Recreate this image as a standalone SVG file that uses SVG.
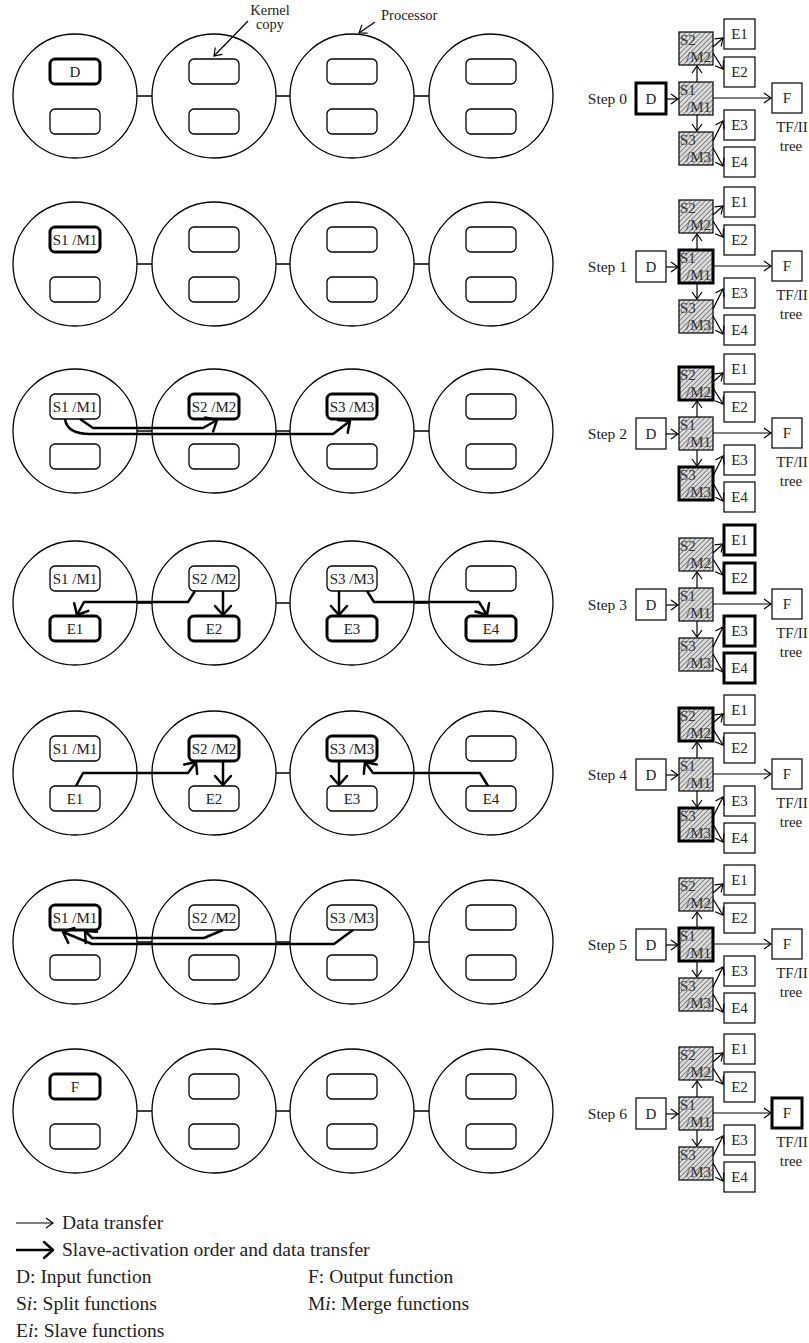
<svg xmlns="http://www.w3.org/2000/svg" xmlns:xlink="http://www.w3.org/1999/xlink" width="809" height="1343" viewBox="0 0 809 1343">
<style>
.bg{fill:#fff}
.pc{fill:none;stroke:#000;stroke-width:1.3}
.kr{fill:#fff;stroke:#000;stroke-width:1.3}
.kt{fill:#fff;stroke:#000;stroke-width:3}
.lk{stroke:#000;stroke-width:1.3;fill:none}
.lb{font-family:"Liberation Serif",serif;font-size:15px;fill:#222;text-anchor:middle}
.an{font-family:"Liberation Serif",serif;font-size:14.5px;fill:#222}
.ar{fill:none;stroke:#000;stroke-width:2.5;stroke-linejoin:round;marker-end:url(#mk)}
.tl{fill:none;stroke:#000;stroke-width:1.2;marker-end:url(#ms)}
.tb{fill:#fff;stroke:#000;stroke-width:1.2}
.tbt{fill:#fff;stroke:#000;stroke-width:3}
.th{fill:url(#hatch);stroke:#000;stroke-width:1.2}
.tht{fill:url(#hatch);stroke:#000;stroke-width:3}
.tt{font-family:"Liberation Serif",serif;font-size:15px;fill:#222;text-anchor:middle}
.ts{font-family:"Liberation Serif",serif;font-size:15px;fill:#333}
.st{font-family:"Liberation Serif",serif;font-size:15.5px;fill:#222;text-anchor:end}
.lg{font-family:"Liberation Serif",serif;font-size:19.5px;fill:#222}
</style>
<defs>
<marker id="mk" viewBox="-12 -12 14 24" refX="0" refY="0" markerWidth="14" markerHeight="24" markerUnits="userSpaceOnUse" orient="auto">
<path d="M-9,-8 L0,0 L-9,8" fill="none" stroke="#000" stroke-width="2.5" stroke-linecap="round" stroke-linejoin="round"/>
</marker>
<marker id="ms" viewBox="-9 -7 10 14" refX="0" refY="0" markerWidth="10" markerHeight="14" markerUnits="userSpaceOnUse" orient="auto">
<path d="M-7,-5 L0,0 L-7,5" fill="none" stroke="#000" stroke-width="1.2"/>
</marker>
<pattern id="hatch" width="3.5" height="3.5" patternUnits="userSpaceOnUse" patternTransform="rotate(45)">
<rect width="3.5" height="3.5" fill="#dcdcdc"/>
<line x1="0" y1="0" x2="0" y2="3.5" stroke="#333" stroke-width="1"/>
</pattern>
<g id="proc">
<circle class="pc" cx="0" cy="0" r="62"/>
<rect class="kr" x="-25" y="-37" width="50" height="25" rx="5"/>
<rect class="kr" x="-25" y="13" width="50" height="25" rx="5"/>
</g>
</defs>
<rect class="bg" width="809" height="1343"/>

<!-- annotations -->
<g id="annotations">
<text class="an" x="270" y="15" text-anchor="middle">Kernel</text>
<text class="an" x="270" y="29" text-anchor="middle">copy</text>
<text class="an" x="381" y="19.5">Processor</text>
</g>

<!-- Processor rows -->
<g id="row1">
<g id="r1p1"><use href="#proc" x="75" y="96"/><rect class="kt" x="50" y="59" width="50" height="25" rx="5"/><text class="lb" x="75" y="76.5">D</text></g>
<g id="r1p2"><use href="#proc" x="214" y="96"/></g>
<g id="r1p3"><use href="#proc" x="352" y="96"/></g>
<g id="r1p4"><use href="#proc" x="491" y="96"/></g>
</g>
<g id="row2" transform="translate(0,168)">
<g id="r2p1"><use href="#proc" x="75" y="96"/><rect class="kt" x="50" y="59" width="50" height="25" rx="5"/><text class="lb" x="75" y="76.5">S1 /M1</text></g>
<g id="r2p2"><use href="#proc" x="214" y="96"/></g>
<g id="r2p3"><use href="#proc" x="352" y="96"/></g>
<g id="r2p4"><use href="#proc" x="491" y="96"/></g>
</g>
<g id="row3" transform="translate(0,335)">
<g id="r3p1"><use href="#proc" x="75" y="96"/><text class="lb" x="75" y="76.5">S1 /M1</text></g>
<g id="r3p2"><use href="#proc" x="214" y="96"/><rect class="kt" x="189" y="59" width="50" height="25" rx="5"/><text class="lb" x="214" y="76.5">S2 /M2</text></g>
<g id="r3p3"><use href="#proc" x="352" y="96"/><rect class="kt" x="327" y="59" width="50" height="25" rx="5"/><text class="lb" x="352" y="76.5">S3 /M3</text></g>
<g id="r3p4"><use href="#proc" x="491" y="96"/></g>
</g>
<g id="row4" transform="translate(0,507)">
<g id="r4p1"><use href="#proc" x="75" y="96"/><text class="lb" x="75" y="76.5">S1 /M1</text><rect class="kt" x="50" y="109" width="50" height="25" rx="5"/><text class="lb" x="75" y="126.5">E1</text></g>
<g id="r4p2"><use href="#proc" x="214" y="96"/><text class="lb" x="214" y="76.5">S2 /M2</text><rect class="kt" x="189" y="109" width="50" height="25" rx="5"/><text class="lb" x="214" y="126.5">E2</text></g>
<g id="r4p3"><use href="#proc" x="352" y="96"/><text class="lb" x="352" y="76.5">S3 /M3</text><rect class="kt" x="327" y="109" width="50" height="25" rx="5"/><text class="lb" x="352" y="126.5">E3</text></g>
<g id="r4p4"><use href="#proc" x="491" y="96"/><rect class="kt" x="466" y="109" width="50" height="25" rx="5"/><text class="lb" x="491" y="126.5">E4</text></g>
</g>
<g id="row5" transform="translate(0,677)">
<g id="r5p1"><use href="#proc" x="75" y="96"/><text class="lb" x="75" y="76.5">S1 /M1</text><text class="lb" x="75" y="126.5">E1</text></g>
<g id="r5p2"><use href="#proc" x="214" y="96"/><rect class="kt" x="189" y="59" width="50" height="25" rx="5"/><text class="lb" x="214" y="76.5">S2 /M2</text><text class="lb" x="214" y="126.5">E2</text></g>
<g id="r5p3"><use href="#proc" x="352" y="96"/><rect class="kt" x="327" y="59" width="50" height="25" rx="5"/><text class="lb" x="352" y="76.5">S3 /M3</text><text class="lb" x="352" y="126.5">E3</text></g>
<g id="r5p4"><use href="#proc" x="491" y="96"/><text class="lb" x="491" y="126.5">E4</text></g>
</g>
<g id="row6" transform="translate(0,846)">
<g id="r6p1"><use href="#proc" x="75" y="96"/><rect class="kt" x="50" y="59" width="50" height="25" rx="5"/><text class="lb" x="75" y="76.5">S1 /M1</text></g>
<g id="r6p2"><use href="#proc" x="214" y="96"/><text class="lb" x="214" y="76.5">S2 /M2</text></g>
<g id="r6p3"><use href="#proc" x="352" y="96"/><text class="lb" x="352" y="76.5">S3 /M3</text></g>
<g id="r6p4"><use href="#proc" x="491" y="96"/></g>
</g>
<g id="row7" transform="translate(0,1015)">
<g id="r7p1"><use href="#proc" x="75" y="96"/><rect class="kt" x="50" y="59" width="50" height="25" rx="5"/><text class="lb" x="75" y="76.5">F</text></g>
<g id="r7p2"><use href="#proc" x="214" y="96"/></g>
<g id="r7p3"><use href="#proc" x="352" y="96"/></g>
<g id="r7p4"><use href="#proc" x="491" y="96"/></g>
</g>

<!-- Trees -->
<g id="tree0">
<text class="st" x="627" y="104">Step 0</text>
<g id="t0D"><rect class="tbt" x="636" y="83" width="30" height="31"/><text class="tt" x="651" y="104">D</text></g>
<g id="t0S1"><rect class="th" x="679" y="82" width="34" height="33"/><text class="ts" x="680" y="95">S1</text><text class="ts" x="686" y="112">/M1</text></g>
<g id="t0S2"><rect class="th" x="679" y="32" width="34" height="33"/><text class="ts" x="680" y="45">S2</text><text class="ts" x="686" y="62">/M2</text></g>
<g id="t0S3"><rect class="th" x="679" y="132" width="34" height="33"/><text class="ts" x="680" y="145">S3</text><text class="ts" x="686" y="162">/M3</text></g>
<g id="t0E1"><rect class="tb" x="724" y="19" width="31" height="30"/><text class="tt" x="739.5" y="39">E1</text></g>
<g id="t0E2"><rect class="tb" x="724" y="57" width="31" height="30"/><text class="tt" x="739.5" y="77">E2</text></g>
<g id="t0E3"><rect class="tb" x="724" y="110" width="31" height="30"/><text class="tt" x="739.5" y="130">E3</text></g>
<g id="t0E4"><rect class="tb" x="724" y="147" width="31" height="30"/><text class="tt" x="739.5" y="167">E4</text></g>
<g id="t0F"><rect class="tb" x="772" y="83" width="30" height="30"/><text class="tt" x="787" y="103">F</text></g>
<text class="tt" x="792" y="132">TF/II</text><text class="tt" x="791" y="151">tree</text>
</g>
<g id="tree1" transform="translate(0,168)">
<text class="st" x="627" y="104">Step 1</text>
<g id="t1D"><rect class="tb" x="636" y="83" width="30" height="31"/><text class="tt" x="651" y="104">D</text></g>
<g id="t1S1"><rect class="tht" x="679" y="82" width="34" height="33"/><text class="ts" x="680" y="95">S1</text><text class="ts" x="686" y="112">/M1</text></g>
<g id="t1S2"><rect class="th" x="679" y="32" width="34" height="33"/><text class="ts" x="680" y="45">S2</text><text class="ts" x="686" y="62">/M2</text></g>
<g id="t1S3"><rect class="th" x="679" y="132" width="34" height="33"/><text class="ts" x="680" y="145">S3</text><text class="ts" x="686" y="162">/M3</text></g>
<g id="t1E1"><rect class="tb" x="724" y="19" width="31" height="30"/><text class="tt" x="739.5" y="39">E1</text></g>
<g id="t1E2"><rect class="tb" x="724" y="57" width="31" height="30"/><text class="tt" x="739.5" y="77">E2</text></g>
<g id="t1E3"><rect class="tb" x="724" y="110" width="31" height="30"/><text class="tt" x="739.5" y="130">E3</text></g>
<g id="t1E4"><rect class="tb" x="724" y="147" width="31" height="30"/><text class="tt" x="739.5" y="167">E4</text></g>
<g id="t1F"><rect class="tb" x="772" y="83" width="30" height="30"/><text class="tt" x="787" y="103">F</text></g>
<text class="tt" x="792" y="132">TF/II</text><text class="tt" x="791" y="151">tree</text>
</g>
<g id="tree2" transform="translate(0,335)">
<text class="st" x="627" y="104">Step 2</text>
<g id="t2D"><rect class="tb" x="636" y="83" width="30" height="31"/><text class="tt" x="651" y="104">D</text></g>
<g id="t2S1"><rect class="th" x="679" y="82" width="34" height="33"/><text class="ts" x="680" y="95">S1</text><text class="ts" x="686" y="112">/M1</text></g>
<g id="t2S2"><rect class="tht" x="679" y="32" width="34" height="33"/><text class="ts" x="680" y="45">S2</text><text class="ts" x="686" y="62">/M2</text></g>
<g id="t2S3"><rect class="tht" x="679" y="132" width="34" height="33"/><text class="ts" x="680" y="145">S3</text><text class="ts" x="686" y="162">/M3</text></g>
<g id="t2E1"><rect class="tb" x="724" y="19" width="31" height="30"/><text class="tt" x="739.5" y="39">E1</text></g>
<g id="t2E2"><rect class="tb" x="724" y="57" width="31" height="30"/><text class="tt" x="739.5" y="77">E2</text></g>
<g id="t2E3"><rect class="tb" x="724" y="110" width="31" height="30"/><text class="tt" x="739.5" y="130">E3</text></g>
<g id="t2E4"><rect class="tb" x="724" y="147" width="31" height="30"/><text class="tt" x="739.5" y="167">E4</text></g>
<g id="t2F"><rect class="tb" x="772" y="83" width="30" height="30"/><text class="tt" x="787" y="103">F</text></g>
<text class="tt" x="792" y="132">TF/II</text><text class="tt" x="791" y="151">tree</text>
</g>
<g id="tree3" transform="translate(0,506)">
<text class="st" x="627" y="104">Step 3</text>
<g id="t3D"><rect class="tb" x="636" y="83" width="30" height="31"/><text class="tt" x="651" y="104">D</text></g>
<g id="t3S1"><rect class="th" x="679" y="82" width="34" height="33"/><text class="ts" x="680" y="95">S1</text><text class="ts" x="686" y="112">/M1</text></g>
<g id="t3S2"><rect class="th" x="679" y="32" width="34" height="33"/><text class="ts" x="680" y="45">S2</text><text class="ts" x="686" y="62">/M2</text></g>
<g id="t3S3"><rect class="th" x="679" y="132" width="34" height="33"/><text class="ts" x="680" y="145">S3</text><text class="ts" x="686" y="162">/M3</text></g>
<g id="t3E1"><rect class="tbt" x="724" y="19" width="31" height="30"/><text class="tt" x="739.5" y="39">E1</text></g>
<g id="t3E2"><rect class="tbt" x="724" y="57" width="31" height="30"/><text class="tt" x="739.5" y="77">E2</text></g>
<g id="t3E3"><rect class="tbt" x="724" y="110" width="31" height="30"/><text class="tt" x="739.5" y="130">E3</text></g>
<g id="t3E4"><rect class="tbt" x="724" y="147" width="31" height="30"/><text class="tt" x="739.5" y="167">E4</text></g>
<g id="t3F"><rect class="tb" x="772" y="83" width="30" height="30"/><text class="tt" x="787" y="103">F</text></g>
<text class="tt" x="792" y="132">TF/II</text><text class="tt" x="791" y="151">tree</text>
</g>
<g id="tree4" transform="translate(0,676)">
<text class="st" x="627" y="104">Step 4</text>
<g id="t4D"><rect class="tb" x="636" y="83" width="30" height="31"/><text class="tt" x="651" y="104">D</text></g>
<g id="t4S1"><rect class="th" x="679" y="82" width="34" height="33"/><text class="ts" x="680" y="95">S1</text><text class="ts" x="686" y="112">/M1</text></g>
<g id="t4S2"><rect class="tht" x="679" y="32" width="34" height="33"/><text class="ts" x="680" y="45">S2</text><text class="ts" x="686" y="62">/M2</text></g>
<g id="t4S3"><rect class="tht" x="679" y="132" width="34" height="33"/><text class="ts" x="680" y="145">S3</text><text class="ts" x="686" y="162">/M3</text></g>
<g id="t4E1"><rect class="tb" x="724" y="19" width="31" height="30"/><text class="tt" x="739.5" y="39">E1</text></g>
<g id="t4E2"><rect class="tb" x="724" y="57" width="31" height="30"/><text class="tt" x="739.5" y="77">E2</text></g>
<g id="t4E3"><rect class="tb" x="724" y="110" width="31" height="30"/><text class="tt" x="739.5" y="130">E3</text></g>
<g id="t4E4"><rect class="tb" x="724" y="147" width="31" height="30"/><text class="tt" x="739.5" y="167">E4</text></g>
<g id="t4F"><rect class="tb" x="772" y="83" width="30" height="30"/><text class="tt" x="787" y="103">F</text></g>
<text class="tt" x="792" y="132">TF/II</text><text class="tt" x="791" y="151">tree</text>
</g>
<g id="tree5" transform="translate(0,846)">
<text class="st" x="627" y="104">Step 5</text>
<g id="t5D"><rect class="tb" x="636" y="83" width="30" height="31"/><text class="tt" x="651" y="104">D</text></g>
<g id="t5S1"><rect class="tht" x="679" y="82" width="34" height="33"/><text class="ts" x="680" y="95">S1</text><text class="ts" x="686" y="112">/M1</text></g>
<g id="t5S2"><rect class="th" x="679" y="32" width="34" height="33"/><text class="ts" x="680" y="45">S2</text><text class="ts" x="686" y="62">/M2</text></g>
<g id="t5S3"><rect class="th" x="679" y="132" width="34" height="33"/><text class="ts" x="680" y="145">S3</text><text class="ts" x="686" y="162">/M3</text></g>
<g id="t5E1"><rect class="tb" x="724" y="19" width="31" height="30"/><text class="tt" x="739.5" y="39">E1</text></g>
<g id="t5E2"><rect class="tb" x="724" y="57" width="31" height="30"/><text class="tt" x="739.5" y="77">E2</text></g>
<g id="t5E3"><rect class="tb" x="724" y="110" width="31" height="30"/><text class="tt" x="739.5" y="130">E3</text></g>
<g id="t5E4"><rect class="tb" x="724" y="147" width="31" height="30"/><text class="tt" x="739.5" y="167">E4</text></g>
<g id="t5F"><rect class="tb" x="772" y="83" width="30" height="30"/><text class="tt" x="787" y="103">F</text></g>
<text class="tt" x="792" y="132">TF/II</text><text class="tt" x="791" y="151">tree</text>
</g>
<g id="tree6" transform="translate(0,1015)">
<text class="st" x="627" y="104">Step 6</text>
<g id="t6D"><rect class="tb" x="636" y="83" width="30" height="31"/><text class="tt" x="651" y="104">D</text></g>
<g id="t6S1"><rect class="th" x="679" y="82" width="34" height="33"/><text class="ts" x="680" y="95">S1</text><text class="ts" x="686" y="112">/M1</text></g>
<g id="t6S2"><rect class="th" x="679" y="32" width="34" height="33"/><text class="ts" x="680" y="45">S2</text><text class="ts" x="686" y="62">/M2</text></g>
<g id="t6S3"><rect class="th" x="679" y="132" width="34" height="33"/><text class="ts" x="680" y="145">S3</text><text class="ts" x="686" y="162">/M3</text></g>
<g id="t6E1"><rect class="tb" x="724" y="19" width="31" height="30"/><text class="tt" x="739.5" y="39">E1</text></g>
<g id="t6E2"><rect class="tb" x="724" y="57" width="31" height="30"/><text class="tt" x="739.5" y="77">E2</text></g>
<g id="t6E3"><rect class="tb" x="724" y="110" width="31" height="30"/><text class="tt" x="739.5" y="130">E3</text></g>
<g id="t6E4"><rect class="tb" x="724" y="147" width="31" height="30"/><text class="tt" x="739.5" y="167">E4</text></g>
<g id="t6F"><rect class="tbt" x="772" y="83" width="30" height="30"/><text class="tt" x="787" y="103">F</text></g>
<text class="tt" x="792" y="132">TF/II</text><text class="tt" x="791" y="151">tree</text>
</g>

<!-- Connectors -->
<g id="connectors">
<path class="tl" d="M248,21 L214,56"/>
<path class="tl" d="M375,22 L359,33"/>
<g id="links">
<g id="links1"><path class="lk" d="M137,96H152M276,96H290M414,96H429"/></g>
<g transform="translate(0,168)"><path class="lk" d="M137,96H152M276,96H290M414,96H429"/></g>
<g transform="translate(0,335)"><path class="lk" d="M137,96H152M276,96H290M414,96H429"/></g>
<g transform="translate(0,507)"><path class="lk" d="M137,96H152M276,96H290M414,96H429"/></g>
<g transform="translate(0,677)"><path class="lk" d="M137,96H152M276,96H290M414,96H429"/></g>
<g transform="translate(0,846)"><path class="lk" d="M137,96H152M276,96H290M414,96H429"/></g>
<g transform="translate(0,1015)"><path class="lk" d="M137,96H152M276,96H290M414,96H429"/></g>
</g>
<g id="arrows3" transform="translate(0,335)">
<path class="ar" d="M80,84 L93,93 L203,93 L217,85"/>
<path class="ar" d="M65,84 Q67,99 90,99 L333,99 L350,86"/>
</g>
<g id="arrows4" transform="translate(0,507)">
<path class="ar" d="M195,84 L188,95 L84,95 L77,108"/>
<path class="ar" d="M223,84 L223,108"/>
<path class="ar" d="M339,84 L339,108"/>
<path class="ar" d="M367,84 L374,95 L479,95 L487,108"/>
</g>
<g id="arrows5" transform="translate(0,677)">
<path class="ar" d="M76,109 L83,96 L188,96 L196,85"/>
<path class="ar" d="M223,84 L223,108"/>
<path class="ar" d="M339,84 L339,108"/>
<path class="ar" d="M488,109 L480,96 L373,96 L365,85"/>
</g>
<g id="arrows6" transform="translate(0,846)">
<path class="ar" d="M223,84 L204,92 L92,92 L85,85"/>
<path class="ar" d="M353,84 L334,98 L92,98 L63,86"/>
</g>
<g id="treelinks">
<g id="tl0"><path class="tl" d="M666,99 L678,99"/><path class="tl" d="M713,98 L771,98"/><path class="tl" d="M697,82 L697,66"/><path class="tl" d="M697,115 L697,131"/><path class="tl" d="M713,47 L723,38"/><path class="tl" d="M713,53 L723,69"/><path class="tl" d="M713,141 L723,121"/><path class="tl" d="M713,148 L723,166"/></g>
<g transform="translate(0,168)"><path class="tl" d="M666,99 L678,99"/><path class="tl" d="M713,98 L771,98"/><path class="tl" d="M697,82 L697,66"/><path class="tl" d="M697,115 L697,131"/><path class="tl" d="M713,47 L723,38"/><path class="tl" d="M713,53 L723,69"/><path class="tl" d="M713,141 L723,121"/><path class="tl" d="M713,148 L723,166"/></g>
<g transform="translate(0,335)"><path class="tl" d="M666,99 L678,99"/><path class="tl" d="M713,98 L771,98"/><path class="tl" d="M697,82 L697,66"/><path class="tl" d="M697,115 L697,131"/><path class="tl" d="M713,47 L723,38"/><path class="tl" d="M713,53 L723,69"/><path class="tl" d="M713,141 L723,121"/><path class="tl" d="M713,148 L723,166"/></g>
<g transform="translate(0,506)"><path class="tl" d="M666,99 L678,99"/><path class="tl" d="M713,98 L771,98"/><path class="tl" d="M697,82 L697,66"/><path class="tl" d="M697,115 L697,131"/><path class="tl" d="M713,47 L723,38"/><path class="tl" d="M713,53 L723,69"/><path class="tl" d="M713,141 L723,121"/><path class="tl" d="M713,148 L723,166"/></g>
<g transform="translate(0,676)"><path class="tl" d="M666,99 L678,99"/><path class="tl" d="M713,98 L771,98"/><path class="tl" d="M697,82 L697,66"/><path class="tl" d="M697,115 L697,131"/><path class="tl" d="M713,47 L723,38"/><path class="tl" d="M713,53 L723,69"/><path class="tl" d="M713,141 L723,121"/><path class="tl" d="M713,148 L723,166"/></g>
<g transform="translate(0,846)"><path class="tl" d="M666,99 L678,99"/><path class="tl" d="M713,98 L771,98"/><path class="tl" d="M697,82 L697,66"/><path class="tl" d="M697,115 L697,131"/><path class="tl" d="M713,47 L723,38"/><path class="tl" d="M713,53 L723,69"/><path class="tl" d="M713,141 L723,121"/><path class="tl" d="M713,148 L723,166"/></g>
<g transform="translate(0,1015)"><path class="tl" d="M666,99 L678,99"/><path class="tl" d="M713,98 L771,98"/><path class="tl" d="M697,82 L697,66"/><path class="tl" d="M697,115 L697,131"/><path class="tl" d="M713,47 L723,38"/><path class="tl" d="M713,53 L723,69"/><path class="tl" d="M713,141 L723,121"/><path class="tl" d="M713,148 L723,166"/></g>
</g>
</g>

<!-- Legend -->
<g id="legend">
<path class="tl" d="M16,1223 L53,1223"/>
<text class="lg" x="62" y="1229">Data transfer</text>
<path class="ar" d="M16,1250 L53,1250"/>
<text class="lg" x="62" y="1256">Slave-activation order and data transfer</text>
<text class="lg" x="16" y="1283">D: Input function</text>
<text class="lg" x="308" y="1283">F: Output function</text>
<text class="lg" x="16" y="1310">S<tspan font-style="italic">i</tspan>: Split functions</text>
<text class="lg" x="308" y="1310">M<tspan font-style="italic">i</tspan>: Merge functions</text>
<text class="lg" x="16" y="1337">E<tspan font-style="italic">i</tspan>: Slave functions</text>
</g>
</svg>
